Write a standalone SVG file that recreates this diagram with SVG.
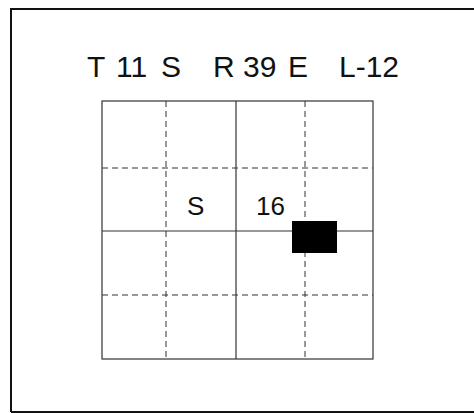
<svg xmlns="http://www.w3.org/2000/svg" width="474" height="413" viewBox="0 0 474 413">
<style>
.t{font-family:"Liberation Sans",Arial,sans-serif;fill:#111}
.sol{stroke:#333;stroke-width:1.2;fill:none}
.dash{stroke:#333;stroke-width:1;stroke-dasharray:6,4;fill:none}
</style>
<rect width="474" height="413" fill="#fff"/>
<path d="M11,412 V9 H480" fill="none" stroke="#111" stroke-width="2"/>
<path d="M11,412 H480" fill="none" stroke="#111" stroke-width="2"/>
<g id="title" class="t" font-size="30">
<text x="87" y="77">T</text>
<text x="116" y="77">11</text>
<text x="161" y="77">S</text>
<text x="213" y="77">R</text>
<text x="243" y="77">39</text>
<text x="288" y="77">E</text>
<text x="339" y="77">L-12</text>
</g>
<g id="grid">
<rect x="102" y="101" width="271" height="258" class="sol"/>
<line x1="236" y1="101" x2="236" y2="359" class="sol"/>
<line x1="102" y1="231" x2="373" y2="231" class="sol"/>
<line x1="166" y1="101" x2="166" y2="359" class="dash"/>
<line x1="305" y1="101" x2="305" y2="359" class="dash"/>
<line x1="102" y1="168" x2="373" y2="168" class="dash"/>
<line x1="102" y1="295" x2="373" y2="295" class="dash"/>
</g>
<g id="labels" class="t" font-size="26">
<text x="187" y="215">S</text>
<text x="256" y="215">16</text>
</g>
<rect id="block" x="292" y="221" width="45" height="32" fill="#000"/>
</svg>
